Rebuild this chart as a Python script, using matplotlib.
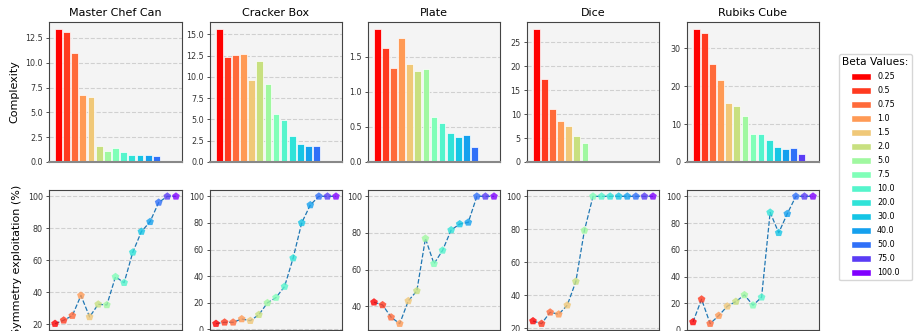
import matplotlib
matplotlib.use("Agg")
import matplotlib.pyplot as plt
from matplotlib.patches import Patch
from matplotlib.ticker import MultipleLocator

## data
objects = ["Master Chef Can", "Cracker Box", "Plate", "Dice", "Rubiks Cube"]
betas = ["0.25", "0.5", "0.75", "1.0", "1.5", "2.0", "5.0", "7.5",
         "10.0", "20.0", "30.0", "40.0", "50.0", "75.0", "100.0"]
beta_colors = ["#ff0000", "#ff3a20", "#ff6a3a", "#ff9a55", "#f0c878",
               "#c8e080", "#a0f8a0", "#80ffb8", "#55f5cc", "#30e3d8",
               "#15c5e5", "#15a0ee", "#3070f8", "#5a3cf5", "#8000ff"]

complexity_master = [13.43, 13.1, 11.0, 6.77, 6.5, 1.65, 1.11, 1.45, 1.01, 0.71, 0.71, 0.71, 0.6]
complexity_cracker = [15.65, 12.35, 12.6, 12.7, 9.65, 11.9, 9.1, 5.65, 4.9, 3.0, 2.15, 1.9, 1.9]
complexity_plate = [1.90, 1.62, 1.34, 1.76, 1.40, 1.30, 1.32, 0.64, 0.56, 0.41, 0.35, 0.38, 0.22]
complexity_dice = [27.8, 17.3, 11.07, 8.57, 7.45, 5.5, 3.97]
complexity_rubiks = [35.1, 33.95, 25.9, 21.5, 15.5, 14.8, 12.05, 7.4, 7.3, 5.9, 3.96, 3.4, 3.6, 2.0, 0.25]

symmetry_master = [20.4, 22.5, 25.4, 38.0, 24.6, 32.5, 32.1, 49.7, 46.0, 65.0, 78.0, 84.1, 96.2, 100, 100]
symmetry_cracker = [4.3, 5.3, 5.3, 7.8, 6.5, 11.0, 19.9, 23.9, 32.2, 53.6, 80.1, 93.5, 100, 100, 100]
symmetry_plate = [42.2, 40.7, 34.0, 30.5, 42.9, 48.4, 77.0, 63.2, 70.5, 81.6, 84.9, 85.8, 100, 100, 100]
symmetry_dice = [24.3, 22.7, 29.6, 28.4, 33.9, 48.3, 79.3, 100, 100, 100, 100, 100, 100, 100, 100]
symmetry_rubiks = [6.0, 23.0, 4.75, 10.75, 17.75, 21.25, 26.25, 18.5, 24.5, 88.0, 72.75, 87.0, 100, 100, 100]

complexity = [complexity_master, complexity_cracker, complexity_plate, complexity_dice, complexity_rubiks]
symmetry = [symmetry_master, symmetry_cracker, symmetry_plate, symmetry_dice, symmetry_rubiks]
top_steps = [2.5, 2.5, 0.5, 5, 10]

W, H = 914, 331
fig = plt.figure(figsize=(W / 100, H / 100), dpi=100)

## axes boxes in pixels (left, right)
col_px = [(49, 182), (210, 342), (368, 500), (527, 659), (687, 819)]
top_px = (22, 162)
bot_px = (190, 330)

def px_box(x0, x1, y0, y1):
    return [x0 / W, 1 - y1 / H, (x1 - x0) / W, (y1 - y0) / H]

def style(ax):
    ax.set_facecolor("#f4f4f4")
    ax.grid(axis="y", linestyle="--", color="#d0d0d0", linewidth=0.8)
    ax.set_axisbelow(True)
    for s in ax.spines.values():
        s.set_color("#444444")
        s.set_linewidth(0.8)
    ax.set_xticks([])
    ax.tick_params(axis="y", labelsize=5.8, length=2.5, width=0.6, colors="#333333", pad=2)

n = len(betas)
xs = list(range(n))
for i, name in enumerate(objects):
    x0, x1 = col_px[i]
    ax = fig.add_axes(px_box(x0, x1, *top_px))
    style(ax)
    vals = complexity[i]
    ax.bar(xs[:len(vals)], vals, width=0.82, color=beta_colors[:len(vals)],
           edgecolor="white", linewidth=0.5)
    span = (n - 1) + 0.8
    ax.set_xlim(-0.4 - 0.05 * span, n - 1 + 0.4 + 0.05 * span)
    ax.set_ylim(0, max(vals) * 1.05)
    ax.yaxis.set_major_locator(MultipleLocator(top_steps[i]))
    ax.spines["bottom"].set_color("#888888")
    ax.spines["bottom"].set_linewidth(1.5)
    ax.set_title(name, fontsize=8, pad=4)
    if i == 0:
        ax.set_ylabel("Complexity", fontsize=8)

    axb = fig.add_axes(px_box(x0, x1, *bot_px))
    style(axb)
    sv = symmetry[i]
    axb.plot(xs, sv, linestyle="--", color="tab:blue", linewidth=0.9, zorder=2)
    axb.scatter(xs, sv, marker="p", s=34, c=beta_colors, alpha=0.8, zorder=3, linewidths=0)
    axb.yaxis.set_major_locator(MultipleLocator(20))
    if i == 0:
        axb.set_ylabel("Symmetry exploitation (%)", fontsize=8)

handles = [Patch(facecolor=c, edgecolor="white", label=b) for b, c in zip(betas, beta_colors)]
leg = fig.legend(handles=handles, title="Beta Values:", loc="upper left",
                 bbox_to_anchor=(839 / W, 1 - 54 / H), fontsize=5.8, title_fontsize=7.7,
                 handlelength=2.4, handleheight=1.0, labelspacing=0.62,
                 frameon=True, borderaxespad=0)
leg.get_frame().set_edgecolor("#cccccc")

fig.savefig("out.png", dpi=100)
